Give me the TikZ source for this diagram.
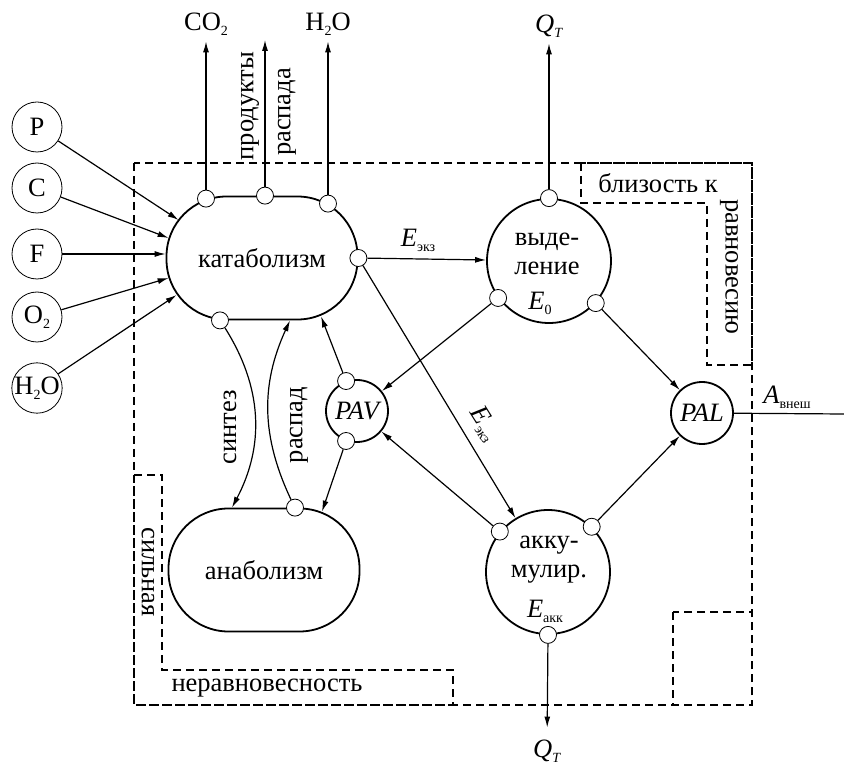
\documentclass[tikz,border=0pt]{standalone}
\usepackage{fontspec}
\setmainfont{Liberation Serif}
\usetikzlibrary{positioning,calc,arrows.meta,shapes}
\newcommand{\bigtxt}{\fontsize{26.5}{29}\selectfont}
\newcommand{\lowtxt}[1]{\raisebox{-5pt}{\fontsize{14}{14}\selectfont #1}}
\newcommand{\Elab}[1]{\textit{E}\lowtxt{#1}}

\begin{document}
\begin{tikzpicture}[x=1pt,y=1pt]
                        \tikzstyle{every node}=[font=\bigtxt,inner sep=0]
                        \tikzstyle{bound}=[dash pattern=on 8pt off 5pt,line width=1.2pt]
                        \tikzstyle{src}=[circle,draw,line width=0.8pt,minimum size=50]
                        \tikzstyle{blob}=[rectangle,draw,line width=1.8pt,rounded corners=60pt,minimum width=191,minimum height=123]
                        \tikzstyle{proc}=[circle,draw,line width=1.8pt,minimum size=124]
                        \tikzstyle{pot}=[circle,draw,line width=1.8pt,minimum size=62,font=\bigtxt\itshape]
                        \tikzstyle{port}=[circle,draw,fill=white,line width=0.8pt,minimum size=17]
                        \tikzstyle{arr}=[-{Latex[length=11pt,width=6pt]},line width=1.2pt]
                        \tikzstyle{flow}=[line width=1.2pt]
                        \tikzstyle{lbl}=[inner sep=6pt]
                        \useasboundingbox (0,0) rectangle (844,-767);
                        {
                            \draw[bound] (134,-163) rectangle (752,-705);
                            \draw[bound] (134,-475) -- (162,-475) -- (162,-670) -- (453,-670) -- (453,-705) -- (134,-705) -- cycle;
                            \draw[bound] (581,-163) -- (581,-203) -- (707,-203) -- (707,-365) -- (752,-365) -- (752,-163) -- cycle;
                            \draw[bound] (673,-612) rectangle (752,-705);
                            \node[rotate=-90] (strong) at (148,-572) {сильная};
                            \node (noneq) at (267,-688) {неравновесность};
                            \node (near) at (658,-183) {близость к};
                            \node[rotate=-90] (equil) at (729,-267) {равновесию};

                            \node[blob] (kat) at (262,-258) {катаболизм};
                            \node[blob] (ana) at (264,-570) {анаболизм};
                            \node[proc] (vyd) at (549,-261) {};
                            \node[proc] (akk) at (548,-572) {};
                            \node[pot] (pav) at (357,-411) {PAV};
                            \node[pot] (pal) at (702,-413) {PAL};

                            \node[align=center] (vydtxt) at (547,-254) {выде-\\ление};
                            \node (e0) at (540,-303) {\Elab{0}};
                            \node[align=center] (akktxt) at (549,-560) {акку-\\мулир.};
                            \node (eakk) at (545,-611) {\Elab{акк}};

                            \foreach \name/\txt/\ypos in {P/P/127, C/C/188, F/F/254, O/{O\lowtxt{2}}/317, W/{H\lowtxt{2}O}/388} {
                                \node[src] (\name) at (37,-\ypos) {\txt};
                            }
                            \draw[arr] (P) -- ([xshift=13,yshift=38]kat.west);
                            \draw[arr] (C) -- ([xshift=3,yshift=20]kat.west);
                            \draw[arr] (F) -- ([yshift=4]kat.west);
                            \draw[arr] (O) -- ([xshift=3,yshift=-20]kat.west);
                            \draw[arr] (W) -- ([xshift=11,yshift=-37]kat.west);

                            \node[port] (kco2) at ([xshift=-56,yshift=-3]kat.north) {};
                            \node[port] (kprod) at ([xshift=3]kat.north) {};
                            \node[port] (kh2o) at ([xshift=66,yshift=-8]kat.north) {};
                            \node[port] (kout) at (kat.east) {};
                            \node[port] (kdown) at ([xshift=-42]kat.south) {};
                            \node[port] (aup) at ([xshift=31]ana.north) {};
                            \node[port] (pavin) at (pav.110) {};
                            \node[port] (pavout) at (pav.250) {};
                            \node[port] (vtop) at (vyd.90) {};
                            \node[port] (vleft) at (vyd.216) {};
                            \node[port] (vright) at (vyd.318) {};
                            \node[port] (aleft) at (akk.140) {};
                            \node[port] (aright) at (akk.46) {};
                            \node[port] (abot) at (akk.270) {};

                            \node[lbl] (co2) at (206,-24) {CO\lowtxt{2}};
                            \node[lbl] (h2o) at (328,-24) {H\lowtxt{2}O};
                            \coordinate (prodend) at (265,-40);
                            \node[rotate=90] (prod1) at (250,-106) {продукты};
                            \node[rotate=90] (prod2) at (287,-112) {распада};
                            \node[lbl] (qtop) at (549,-26) {\textit{Q}\lowtxt{\textit{T}}};
                            \node[inner sep=12pt] (qbot) at (547,-751) {\textit{Q}\lowtxt{\textit{T}}};
                            \node (eexz) at (418,-240) {\Elab{экз}};
                            \node[rotate=-58] (eexz2) at (484,-424) {\Elab{экз}};
                            \node[rotate=90] (synt) at (230,-427) {синтез};
                            \node[rotate=90] (rasp) at (299,-425) {распад};
                            \node (aext) at (787,-397) {\textit{A}\lowtxt{внеш}};
                            \coordinate (aout) at (844,-414);

                            \draw[arr] (kco2) -- (co2);
                            \draw[arr] (kprod) -- (prodend);
                            \draw[arr] (kh2o) -- (h2o);
                            \draw[arr] (kout) -- (vyd);
                            \draw[arr] (kout) -- (akk);
                            \draw[arr] (kdown) to[bend left=30] ([xshift=-32]ana.north);
                            \draw[arr] (aup) to[bend left=25] ([xshift=28]kat.south);
                            \draw[arr] (pavin) -- ([xshift=59,yshift=4]kat.south);
                            \draw[arr] (pavout) -- ([xshift=58,yshift=-4]ana.north);
                            \draw[arr] (vleft) -- (pav);
                            \draw[arr] (aleft) -- (pav);
                            \draw[arr] (vright) -- (pal);
                            \draw[arr] (aright) -- (pal);
                            \draw[arr] (vtop) -- (qtop);
                            \draw[arr] (abot) -- (qbot);
                            \draw[flow] (pal) -- (aout);
                        }
\end{tikzpicture}
\end{document}
